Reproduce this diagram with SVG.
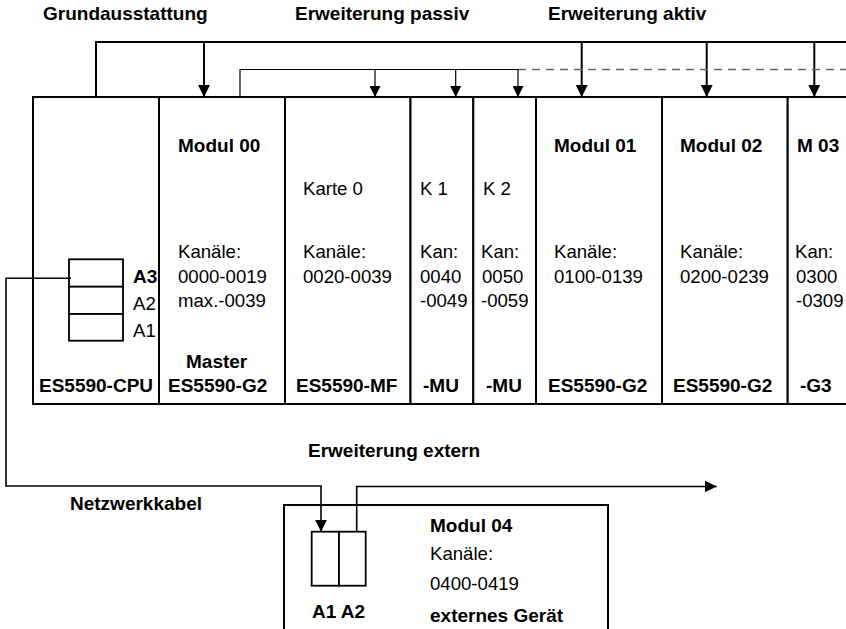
<svg xmlns="http://www.w3.org/2000/svg" width="846" height="629" viewBox="0 0 846 629">
<defs>
<style>
text{font-family:"Liberation Sans",Arial,sans-serif;fill:#000}
.b{font-weight:bold;font-size:19px}
.r{font-size:18.6px}
.col{fill:#fff;stroke:#000;stroke-width:2}
.port{fill:#fff;stroke:#000;stroke-width:1.8}
.thick{fill:none;stroke:#000;stroke-width:2}
.thin{fill:none;stroke:#000;stroke-width:1.2}
.net{fill:none;stroke:#000;stroke-width:1.6}
.dash{fill:none;stroke:#666;stroke-width:1.3;stroke-dasharray:8 6}
</style>
<marker id="ah" viewBox="0 0 12 12" refX="12" refY="6" markerWidth="12" markerHeight="12" markerUnits="userSpaceOnUse" orient="auto">
<path d="M0,0 L12,6 L0,12 z" fill="#000"/>
</marker>
<marker id="ahs" viewBox="0 0 12 12" refX="12" refY="6" markerWidth="11" markerHeight="11" markerUnits="userSpaceOnUse" orient="auto">
<path d="M0,0 L12,6 L0,12 z" fill="#000"/>
</marker>
</defs>
<rect width="846" height="629" fill="#fff"/>

<g id="titles">
<text class="b" x="43" y="20">Grundausstattung</text>
<text class="b" x="295" y="20">Erweiterung passiv</text>
<text class="b" x="548" y="20">Erweiterung aktiv</text>
<text class="b" x="308" y="457">Erweiterung extern</text>
<text class="b" x="70" y="510">Netzwerkkabel</text>
</g>

<g id="cpu">
<rect class="col" x="33" y="97" width="126" height="307"/>
<rect class="port" x="69" y="259.3" width="54" height="27.4"/>
<rect class="port" x="69" y="286.7" width="54" height="27.3"/>
<rect class="port" x="69" y="314" width="54" height="26.7"/>
<text class="b" x="133" y="283">A3</text>
<text class="r" x="133" y="310">A2</text>
<text class="r" x="133" y="337">A1</text>
<text class="b" x="39" y="392">ES5590-CPU</text>
</g>

<g id="modul00">
<rect class="col" x="159" y="97" width="126" height="307"/>
<text class="b" x="178" y="152">Modul 00</text>
<text class="r" x="178" y="258">Kanäle:</text>
<text class="r" x="178" y="283">0000-0019</text>
<text class="r" x="178" y="307">max.-0039</text>
<text class="b" x="186" y="368">Master</text>
<text class="b" x="168" y="392">ES5590-G2</text>
</g>

<g id="mf">
<rect class="col" x="285" y="97" width="125.5" height="307"/>
<text class="r" x="303" y="195">Karte 0</text>
<text class="r" x="303" y="258">Kanäle:</text>
<text class="r" x="303" y="283">0020-0039</text>
<text class="b" x="296" y="392">ES5590-MF</text>
</g>

<g id="mu1">
<rect class="col" x="410.5" y="97" width="62.8" height="307"/>
<text class="r" x="420" y="195">K 1</text>
<text class="r" x="420" y="258">Kan:</text>
<text class="r" x="420" y="283">0040</text>
<text class="r" x="420" y="307">-0049</text>
<text class="b" x="423" y="392">-MU</text>
</g>

<g id="mu2">
<rect class="col" x="473.3" y="97" width="62.7" height="307"/>
<text class="r" x="483" y="195">K 2</text>
<text class="r" x="481" y="258">Kan:</text>
<text class="r" x="482" y="283">0050</text>
<text class="r" x="481" y="307">-0059</text>
<text class="b" x="486" y="392">-MU</text>
</g>

<g id="modul01">
<rect class="col" x="536" y="97" width="126" height="307"/>
<text class="b" x="554" y="152">Modul 01</text>
<text class="r" x="554" y="258">Kanäle:</text>
<text class="r" x="554" y="283">0100-0139</text>
<text class="b" x="548" y="392">ES5590-G2</text>
</g>

<g id="modul02">
<rect class="col" x="662" y="97" width="125.7" height="307"/>
<text class="b" x="680" y="152">Modul 02</text>
<text class="r" x="680" y="258">Kanäle:</text>
<text class="r" x="680" y="283">0200-0239</text>
<text class="b" x="673" y="392">ES5590-G2</text>
</g>

<g id="modul03">
<rect class="col" x="787.7" y="97" width="70" height="307"/>
<text class="b" x="797" y="152">M 03</text>
<text class="r" x="795" y="258">Kan:</text>
<text class="r" x="796" y="283">0300</text>
<text class="r" x="796" y="307">-0309</text>
<text class="b" x="800" y="392">-G3</text>
</g>

<g id="modul04">
<rect class="col" x="284" y="505" width="324" height="140"/>
<rect class="port" x="311.7" y="531.7" width="27.3" height="54"/>
<rect class="port" x="339" y="531.7" width="26.7" height="54"/>
<text class="b" x="312" y="618">A1 A2</text>
<text class="b" x="430" y="532">Modul 04</text>
<text class="r" x="430" y="560">Kanäle:</text>
<text class="r" x="430" y="590">0400-0419</text>
<text class="b" x="430" y="622">externes Gerät</text>
</g>

<g id="connectors">
<polyline class="thick" points="96,97 96,42 846,42"/>
<line class="thick" x1="204" y1="42" x2="204" y2="97" marker-end="url(#ah)"/>
<line class="thick" x1="581.7" y1="42" x2="581.7" y2="97" marker-end="url(#ah)"/>
<line class="thick" x1="706.7" y1="42" x2="706.7" y2="97" marker-end="url(#ah)"/>
<line class="thick" x1="814.3" y1="42" x2="814.3" y2="97" marker-end="url(#ah)"/>
<polyline class="thin" points="240,97 240,69.5 518,69.5"/>
<line class="dash" x1="518" y1="69.5" x2="846" y2="69.5"/>
<line class="thin" x1="375" y1="69.5" x2="375" y2="97" marker-end="url(#ahs)"/>
<line class="thin" x1="455.7" y1="69.5" x2="455.7" y2="97" marker-end="url(#ahs)"/>
<line class="thin" x1="518" y1="69.5" x2="518" y2="97" marker-end="url(#ahs)"/>
<polyline class="net" points="71,278.3 6,278.3 6,486 321,486 321,531.7" marker-end="url(#ah)"/>
<polyline class="net" points="356.7,531.7 356.7,486.5 716.7,486.5" marker-end="url(#ah)"/>
</g>
</svg>
